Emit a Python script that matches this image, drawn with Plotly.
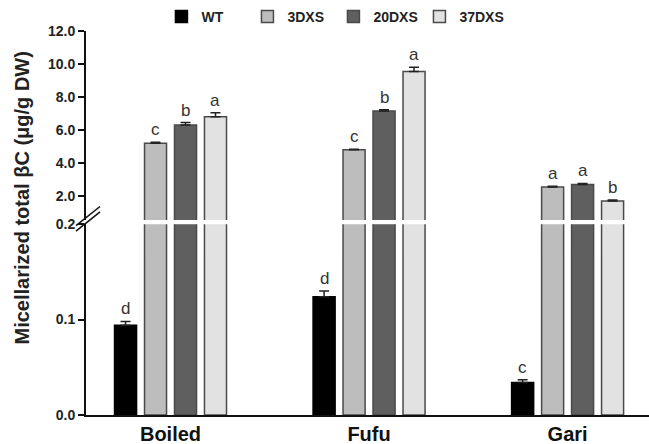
import plotly.graph_objects as go

categories = ["Boiled", "Fufu", "Gari"]
series_names = ["WT", "3DXS", "20DXS", "37DXS"]
wt = [0.094, 0.124, 0.034]
dxs3 = [5.2, 4.8, 2.55]
dxs20 = [6.3, 7.15, 2.7]
dxs37 = [6.8, 9.55, 1.7]
wt_err = [0.004, 0.006, 0.003]
dxs3_err = [0.06, 0.04, 0.04]
dxs20_err = [0.15, 0.08, 0.06]
dxs37_err = [0.25, 0.25, 0.06]
wt_letters = ["d", "d", "c"]
dxs3_letters = ["c", "c", "a"]
dxs20_letters = ["b", "b", "a"]
dxs37_letters = ["a", "a", "b"]
lower_ticks = [0.0, 0.1, 0.2]
upper_ticks = [2.0, 4.0, 6.0, 8.0, 10.0, 12.0]

values = [wt, dxs3, dxs20, dxs37]
errors = [wt_err, dxs3_err, dxs20_err, dxs37_err]
letters = [wt_letters, dxs3_letters, dxs20_letters, dxs37_letters]
colors = ["#000000", "#bdbdbd", "#5f5f5f", "#e2e2e2"]
line_col = "#4a4a4a"

BARGAP = 0.396
BARGROUPGAP = 0.265
slot = (1 - BARGAP) / 4

fig = go.Figure()
xi = list(range(len(categories)))
for axis_pair, show in ((("x", "y"), True), (("x2", "y2"), False)):
    for name, vals, errs, col in zip(series_names, values, errors, colors):
        fig.add_trace(go.Bar(
            x=xi, y=vals, name=name, showlegend=show,
            xaxis=axis_pair[0], yaxis=axis_pair[1],
            marker=dict(color=col, line=dict(color=line_col if name != "WT" else "#000000", width=1.5)),
            error_y=dict(type="data", array=errs, arrayminus=[0] * len(errs), symmetric=False,
                         color="#222222", thickness=1.5, width=5),
            legendgroup=name,
        ))

# significance letters
annotations = []
for i, (vals, errs, lets) in enumerate(zip(values, errors, letters)):
    for c in range(len(categories)):
        xpos = c + (i - 1.5) * slot
        yref = "y" if i == 0 else "y2"
        annotations.append(dict(
            x=xpos, y=vals[c] + errs[c], xref="x", yref=yref,
            text=lets[c], showarrow=False, yanchor="bottom", yshift=1,
            font=dict(family="Liberation Sans, Arial", size=17, color="#333333"),
        ))

annotations.append(dict(
    x=-0.114, y=0.566, xref="paper", yref="paper",
    text="Micellarized total βC (μg/g DW)", textangle=-90, showarrow=False,
    font=dict(family="Liberation Sans, Arial", size=20, color="#222222", weight="bold"),
    xanchor="center", yanchor="middle",
))

fig.update_layout(
    width=649, height=444,
    margin=dict(l=86, r=0, t=31, b=29),
    paper_bgcolor="white", plot_bgcolor="white",
    barmode="group", bargap=BARGAP, bargroupgap=BARGROUPGAP,
    annotations=annotations,
    legend=dict(orientation="h", x=0.134, y=0.995, xanchor="left", yanchor="bottom",
                font=dict(family="Liberation Sans, Arial", size=14, color="#222222", weight="bold"),
                itemwidth=30, tracegroupgap=0, entrywidth=41, entrywidthmode="pixels"),
    xaxis=dict(
        domain=[0, 1], range=[-0.4257, 2.41], anchor="y",
        tickvals=xi, ticktext=categories, ticks="",
        showline=True, linecolor="#111111", linewidth=2,
        showgrid=False, zeroline=False,
        tickfont=dict(family="Liberation Sans, Arial", size=20, color="#111111", weight="bold"),
    ),
    xaxis2=dict(matches="x", anchor="y2", visible=False, range=[-0.4257, 2.41]),
    yaxis=dict(
        domain=[0, 0.497], range=[0, 0.2], anchor="x",
        tickvals=lower_ticks, ticktext=[f"{v:.1f}" for v in lower_ticks],
        ticks="outside", ticklen=6, tickwidth=1.5, tickcolor="#111111",
        showline=True, linecolor="#111111", linewidth=2,
        showgrid=False, zeroline=False,
        tickfont=dict(family="Liberation Sans, Arial", size=14, color="#222222", weight="bold"),
    ),
    yaxis2=dict(
        domain=[0.508, 1], range=[0.55, 12], anchor="x2",
        tickvals=upper_ticks, ticktext=[f"{v:.1f}" for v in upper_ticks],
        ticks="outside", ticklen=6, tickwidth=1.5, tickcolor="#111111",
        showline=True, linecolor="#111111", linewidth=2,
        showgrid=False, zeroline=False,
        tickfont=dict(family="Liberation Sans, Arial", size=14, color="#222222", weight="bold"),
    ),
)

# axis break marks (//)
for dy in (0.0, 0.014):
    fig.add_shape(type="line", xref="paper", yref="paper",
                  x0=-0.0178, y0=0.479 + dy, x1=0.0249, y1=0.529 + dy,
                  line=dict(color="#111111", width=1.5))

fig.write_html("out.html")
